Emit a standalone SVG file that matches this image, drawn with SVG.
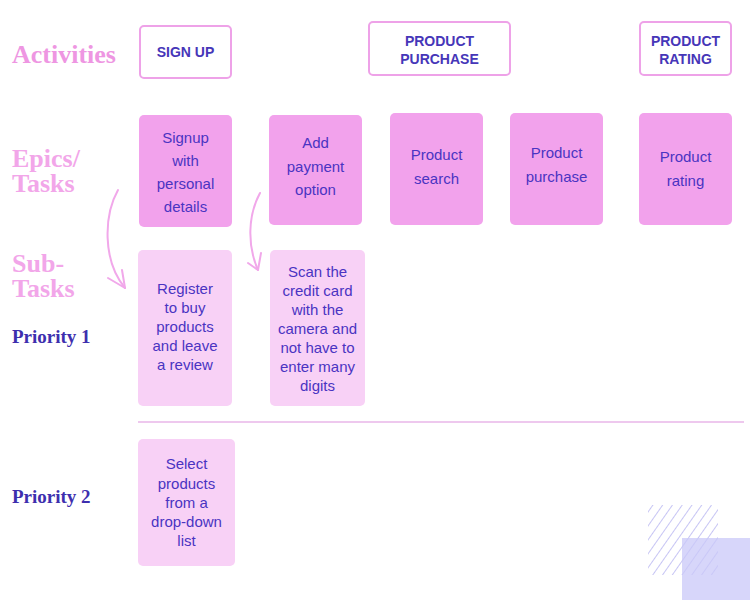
<svg xmlns="http://www.w3.org/2000/svg" width="750" height="600" viewBox="0 0 750 600">
<defs>
<pattern id="hatch" patternUnits="userSpaceOnUse" width="8" height="8" patternTransform="rotate(35)">
<line x1="0" y1="0" x2="0" y2="8" stroke="#b9b6f2" stroke-width="1.6"/>
</pattern>
</defs>
<style>
.lbl{font-family:"Liberation Serif","DejaVu Serif",serif;font-weight:bold;font-size:26px;fill:#ee96e2}
.lbl2{font-family:"Liberation Serif","DejaVu Serif",serif;font-weight:bold;font-size:26px;fill:#f2a6e9}
.pri{font-family:"Liberation Serif","DejaVu Serif",serif;font-weight:bold;font-size:19px;fill:#3d2fae}
.act rect{fill:#ffffff;stroke:#eea2e8;stroke-width:2}
.act text{font-family:"Liberation Sans","Arial",sans-serif;font-weight:bold;font-size:14px;fill:#4636b8;text-anchor:middle}
.epic rect{fill:#f2a2ec}
.sub rect{fill:#f8d1f6}
.card text{font-family:"Liberation Sans","Arial",sans-serif;font-size:15px;fill:#4a34c2;text-anchor:middle}
.conn path{fill:none;stroke:#f1a8ea;stroke-width:2;stroke-linecap:round;stroke-linejoin:round}
</style>
<rect width="750" height="600" fill="#ffffff"/>

<text class="lbl" x="12" y="63">Activities</text>
<text class="lbl2" x="12" y="167">Epics/</text>
<text class="lbl2" x="12" y="192">Tasks</text>
<text class="lbl2" x="12" y="272">Sub-</text>
<text class="lbl2" x="12" y="297">Tasks</text>
<text class="pri" x="12" y="343">Priority 1</text>
<text class="pri" x="12" y="503">Priority 2</text>

<g id="act-signup" class="act"><rect x="140" y="26" width="91" height="52" rx="4"/><text x="185.5" y="57">SIGN UP</text></g>
<g id="act-purchase" class="act"><rect x="369" y="22" width="141" height="53" rx="4"/><text x="439.5" y="46">PRODUCT</text><text x="439.5" y="64">PURCHASE</text></g>
<g id="act-rating" class="act"><rect x="640" y="22" width="91" height="53" rx="4"/><text x="685.5" y="46">PRODUCT</text><text x="685.5" y="64">RATING</text></g>

<g id="epic-signup" class="card epic"><rect x="139" y="115" width="93" height="112" rx="5"/>
<text x="185.5" y="143">Signup</text><text x="185.5" y="166">with</text><text x="185.5" y="189">personal</text><text x="185.5" y="212">details</text></g>
<g id="epic-payment" class="card epic"><rect x="269" y="115" width="93" height="110" rx="5"/>
<text x="315.5" y="148">Add</text><text x="315.5" y="172">payment</text><text x="315.5" y="195">option</text></g>
<g id="epic-search" class="card epic"><rect x="390" y="113" width="93" height="112" rx="5"/>
<text x="436.5" y="160">Product</text><text x="436.5" y="184">search</text></g>
<g id="epic-purchase" class="card epic"><rect x="510" y="113" width="93" height="112" rx="5"/>
<text x="556.5" y="158">Product</text><text x="556.5" y="182">purchase</text></g>
<g id="epic-rating" class="card epic"><rect x="639" y="113" width="93" height="112" rx="5"/>
<text x="685.5" y="162">Product</text><text x="685.5" y="186">rating</text></g>

<g id="sub-register" class="card sub"><rect x="138" y="250" width="94" height="156" rx="5"/>
<text x="185" y="294">Register</text><text x="185" y="313">to buy</text><text x="185" y="332">products</text><text x="185" y="351">and leave</text><text x="185" y="370">a review</text></g>
<g id="sub-scan" class="card sub"><rect x="270" y="250" width="95" height="156" rx="5"/>
<text x="317.5" y="277">Scan the</text><text x="317.5" y="296">credit card</text><text x="317.5" y="315">with the</text><text x="317.5" y="334">camera and</text><text x="317.5" y="353">not have to</text><text x="317.5" y="372">enter many</text><text x="317.5" y="391">digits</text></g>
<g id="sub-select" class="card sub"><rect x="138" y="439" width="97" height="127" rx="5"/>
<text x="186.5" y="469">Select</text><text x="186.5" y="489">products</text><text x="186.5" y="508">from a</text><text x="186.5" y="527">drop-down</text><text x="186.5" y="546">list</text></g>

<line x1="138" y1="422" x2="744" y2="422" stroke="#e9b6e8" stroke-width="1.5"/>

<g id="connectors" class="conn">
<path d="M118,190 C104,215 102,260 125,288"/>
<path d="M108,278 L125,288 L122,270"/>
<path d="M260,193 C248,215 247,245 258,270"/>
<path d="M248,263 L258,270 L261,253"/>
</g>

<rect x="648" y="505" width="70" height="70" fill="url(#hatch)"/>
<rect x="682" y="538" width="68" height="62" fill="#c9c8f8" fill-opacity="0.75"/>
</svg>
